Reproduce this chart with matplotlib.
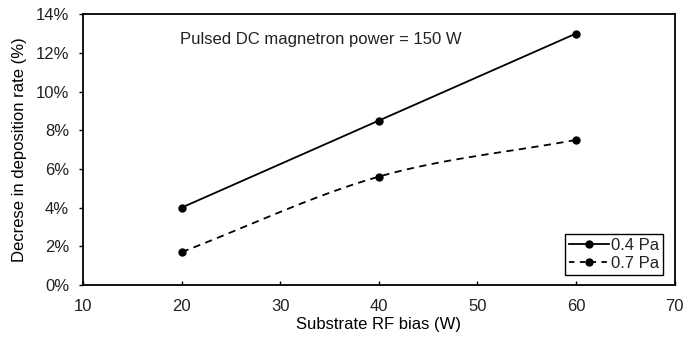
import matplotlib.pyplot as plt
import numpy as np
from matplotlib.ticker import PercentFormatter

plt.rcParams['font.family'] = ['Liberation Sans', 'DejaVu Sans']
plt.rcParams['font.size'] = 12
plt.rcParams['text.color'] = '#222222'

bias = [20, 40, 60]
rate_04 = [4.0, 8.5, 13.0]
rate_07 = [1.7, 5.6, 7.5]


def smooth(xs, ys, n=40):
    # Catmull-Rom style smoothing, like Excel's smoothed line
    xs = np.asarray(xs, float)
    ys = np.asarray(ys, float)
    px = np.concatenate([[2 * xs[0] - xs[1]], xs, [2 * xs[-1] - xs[-2]]])
    py = np.concatenate([[2 * ys[0] - ys[1]], ys, [2 * ys[-1] - ys[-2]]])
    out_x, out_y = [], []
    t = np.linspace(0, 1, n)
    for i in range(1, len(px) - 2):
        for p, out in ((px, out_x), (py, out_y)):
            p0, p1, p2, p3 = p[i - 1], p[i], p[i + 1], p[i + 2]
            out.extend(0.5 * ((2 * p1) + (-p0 + p2) * t
                              + (2 * p0 - 5 * p1 + 4 * p2 - p3) * t ** 2
                              + (-p0 + 3 * p1 - 3 * p2 + p3) * t ** 3))
    return out_x, out_y


fig, ax = plt.subplots(figsize=(6.87, 3.38), dpi=100)
fig.subplots_adjust(left=0.121, right=0.982, top=0.958, bottom=0.157)

ax.plot(bias, rate_04, '-', color='black', lw=1.3, marker='o', ms=5, label='0.4 Pa')
sx, sy = smooth(bias, rate_07)
ax.plot(sx, sy, '--', color='black', lw=1.3, dashes=(4, 3))
ax.plot(bias, rate_07, 'o', color='black', ms=5)
ax.plot([], [], '--', color='black', lw=1.3, dashes=(3, 3), marker='o', ms=5, label='0.7 Pa')

ax.set_xlim(10, 70)
ax.set_ylim(0, 14)
ax.set_xticks(range(10, 71, 10))
ax.set_yticks(range(0, 15, 2))
ax.yaxis.set_major_formatter(PercentFormatter(decimals=0))
ax.tick_params(axis='both', labelsize=12, length=3, width=1, color='black',
               labelcolor='#222222')
ax.tick_params(axis='x', direction='in', pad=10)
ax.tick_params(axis='y', direction='out', pad=7)
for s in ax.spines.values():
    s.set_linewidth(1.3)

ax.set_xlabel('Substrate RF bias (W)', fontsize=12, labelpad=2)
ax.set_ylabel('Decrese in deposition rate (%)', fontsize=12, labelpad=6)
ax.text(0.164, 0.905, 'Pulsed DC magnetron power = 150 W', transform=ax.transAxes,
        ha='left', va='center', fontsize=12)

leg = ax.legend(loc='lower right', bbox_to_anchor=(0.98, 0.035), fancybox=False,
                edgecolor='black', framealpha=1, handlelength=2.4, handletextpad=0.1,
                borderpad=0.25, labelspacing=0.2, borderaxespad=0, fontsize=12)
leg.get_frame().set_linewidth(1.0)

fig.savefig('out.png', dpi=100)
